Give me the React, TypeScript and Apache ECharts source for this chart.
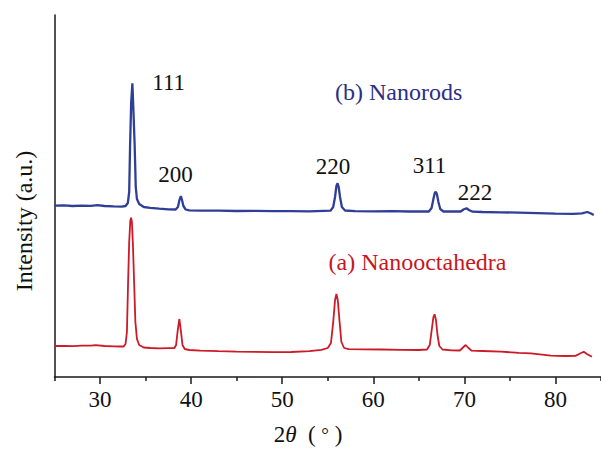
import React, { useEffect, useRef } from "react";
import * as echarts from "echarts";

const SERIF = "Liberation Serif, Times New Roman, serif";

// 2θ (degrees) and intensity (a.u., offset traces)
const nanorods: [number, number][] = [
  [25, 171.3], [26, 171.6], [27, 171.0], [28, 171.4], [29, 171.2], [29.7, 171.9], [30.5, 171.0], [31.5, 170.6], [32.4, 170.4],
  [32.8, 171], [33.05, 174], [33.2, 185], [33.3, 232], [33.42, 275], [33.55, 293.7], [33.65, 270], [33.8, 232], [33.92, 190], [34.05, 178], [34.3, 173], [34.8, 170],
  [35.5, 169.2], [36.5, 168.3], [37.5, 167.6], [38.3, 167.5],
  [38.55, 170], [38.72, 177], [38.87, 181], [39.0, 177], [39.15, 171], [39.4, 167.5], [39.8, 166.6],
  [41, 166.3], [43, 166.4], [45, 166.0], [47, 166.1], [49, 165.8], [51, 165.9], [53, 165.6], [55.3, 166.3],
  [55.6, 170], [55.8, 180], [55.95, 191], [56.08, 193.7], [56.2, 190], [56.35, 180], [56.55, 170], [56.9, 166.5],
  [58, 165.9], [60, 165.7], [62, 165.8], [64, 165.5], [66.1, 165.5],
  [66.4, 169], [66.6, 178], [66.75, 184], [66.86, 185.3], [66.98, 183], [67.15, 175], [67.35, 168], [67.7, 165.5],
  [68.7, 165.5], [69.6, 165.5], [69.9, 167.5], [70.23, 168.7], [70.5, 167], [70.9, 165.3],
  [72, 165.0], [74, 164.7], [76, 164.3], [78, 163.8], [80, 163.3], [82, 163.1], [82.9, 163.6], [83.5, 165], [83.9, 163.5], [84.2, 162]
];

const nanooctahedra: [number, number][] = [
  [25, 31.0], [26, 31.2], [27, 30.9], [28, 31.3], [29, 31.4], [29.5, 31.8], [30.5, 31.0], [31.5, 30.7], [32.3, 30.5],
  [32.6, 30.5], [32.8, 33], [32.95, 45], [33.08, 95], [33.2, 135], [33.32, 156], [33.41, 159.3], [33.5, 155], [33.62, 130], [33.74, 95], [33.88, 55], [34.05, 38], [34.3, 32], [34.8, 29.5],
  [35.5, 29.0], [36.5, 28.7], [37.5, 28.8], [38.15, 28.8],
  [38.35, 32], [38.52, 46], [38.71, 58], [38.88, 46], [39.05, 32], [39.3, 28], [39.8, 27],
  [41, 26.4], [43, 25.8], [45, 25.4], [47, 25.1], [49, 24.8], [51, 25.0], [53, 25.8], [54.3, 27.2], [55.0, 29],
  [55.35, 34], [55.6, 55], [55.8, 77], [55.95, 83], [56.1, 77], [56.3, 55], [56.5, 35], [56.8, 29], [57.3, 27.8],
  [59, 27.6], [61, 27.5], [63, 27.2], [65, 27.0], [65.9, 27.5],
  [66.2, 32], [66.4, 46], [66.6, 60], [66.73, 62.7], [66.88, 57], [67.05, 42], [67.25, 31], [67.6, 27.5],
  [68.6, 26.6], [69.5, 26.5], [69.8, 29], [70.14, 32], [70.45, 29], [70.8, 26.3],
  [72, 26.0], [74, 25.3], [76, 24.2], [77.3, 23.7], [79.5, 21.4], [81, 21.0], [82.2, 21.1], [82.7, 23.5], [83.1, 25.3], [83.5, 22.8], [84.0, 20.3]
];

const majorTicks = [30, 40, 50, 60, 70, 80];
const minorTicks = [25, 35, 45, 55, 65, 75, 85];
const peakLabels = ["111", "200", "220", "311", "222"];
const seriesNames = ["(b) Nanorods", "(a) Nanooctahedra"];
const yTitle = "Intensity (a.u.)";

export default function App() {
  const ref = useRef<HTMLDivElement>(null);
  useEffect(() => {
    const chart = echarts.init(ref.current!, null, { renderer: "svg", width: 601, height: 449 });
    const txt = (text: string, x: number, y: number, fill = "#111", size = 23, extra: any = {}) => ({
      type: "text",
      x,
      y,
      silent: true,
      ...extra,
      style: {
        text,
        fill,
        fontSize: size,
        fontFamily: SERIF,
        align: "center",
        verticalAlign: "middle",
        textAlign: "center",
        textVerticalAlign: "middle",
      },
    });
    const peakPos = [
      [168.7, 82.5],
      [175.5, 174.7],
      [333, 166],
      [429.5, 165.8],
      [475, 192.8],
    ];
    chart.setOption({
      animation: false,
      backgroundColor: "#fff",
      grid: { left: 54.5, right: 0, top: 15, bottom: 72 },
      xAxis: [
        {
          type: "value",
          min: 25,
          max: 85,
          position: "bottom",
          axisLine: { show: true, onZero: false, lineStyle: { color: "#1a1a1a", width: 1.5 } },
          axisTick: { show: true, customValues: majorTicks, length: 7, lineStyle: { color: "#1a1a1a", width: 1.5 } },
          axisLabel: { show: true, customValues: majorTicks, fontSize: 23, fontFamily: SERIF, color: "#111", margin: 11 },
          splitLine: { show: false },
        },
        {
          type: "value",
          min: 25,
          max: 85,
          position: "bottom",
          axisLine: { show: false, onZero: false },
          axisTick: { show: true, customValues: minorTicks, length: 4, lineStyle: { color: "#1a1a1a", width: 1.5 } },
          axisLabel: { show: false },
          splitLine: { show: false },
        },
      ],
      yAxis: {
        type: "value",
        min: 0,
        max: 362,
        axisLine: { show: true, onZero: false, lineStyle: { color: "#1a1a1a", width: 1.5 } },
        axisTick: { show: false },
        axisLabel: { show: false },
        splitLine: { show: false },
      },
      series: [
        {
          name: seriesNames[0],
          type: "line",
          xAxisIndex: 0,
          data: nanorods,
          showSymbol: false,
          symbol: "none",
          lineStyle: { color: "#2f3f98", width: 2.3 },
          z: 3,
        },
        {
          name: seriesNames[1],
          type: "line",
          xAxisIndex: 0,
          data: nanooctahedra,
          showSymbol: false,
          symbol: "none",
          lineStyle: { color: "#cc1a28", width: 1.8 },
          z: 3,
        },
      ],
      graphic: [
        ...peakLabels.map((t, i) => txt(t, peakPos[i][0], peakPos[i][1])),
        txt(seriesNames[0], 398.7, 91.7, "#2b2f85", 24),
        txt(seriesNames[1], 417.5, 262, "#c8161f", 24),
        txt(yTitle, 23.5, 221, "#111", 24, { rotation: Math.PI / 2 }),
        {
          type: "text",
          x: 308,
          y: 434,
          silent: true,
          style: {
            text: "{n|2}{i|θ}{n|  ( }{d|°}{n| )}",
            align: "center",
            verticalAlign: "middle",
            textAlign: "center",
            textVerticalAlign: "middle",
            fill: "#111",
            fontSize: 23,
            fontFamily: SERIF,
            rich: {
              n: { fontSize: 23, fontFamily: SERIF, fill: "#111", color: "#111" },
              i: { fontSize: 23, fontFamily: SERIF, fontStyle: "italic", fill: "#111", color: "#111" },
              d: { fontSize: 19, fontFamily: SERIF, fill: "#111", color: "#111" },
            },
          },
        },
      ],
    });
    return () => chart.dispose();
  }, []);
  return (
    <div
      ref={ref}
      style={{ position: "fixed", left: 0, top: 0, width: 601, height: 449, background: "#fff" }}
    />
  );
}
